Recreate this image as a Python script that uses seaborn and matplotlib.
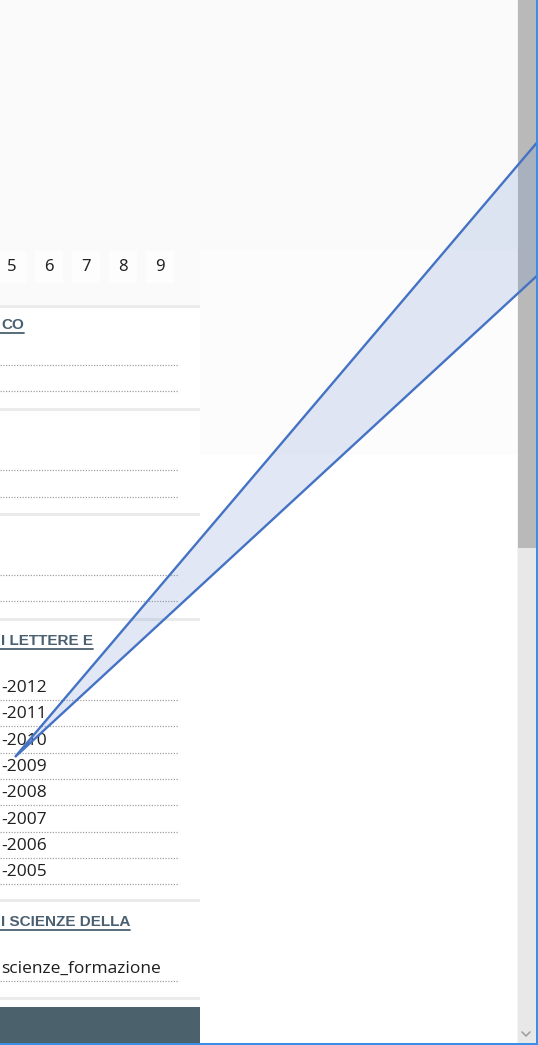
import numpy as np
import pandas as pd
import seaborn as sns
from matplotlib import pyplot as plt
from matplotlib.patches import Rectangle, Polygon

sns.set_theme(style="white")
plt.rcParams["font.family"] = ["Open Sans", "DejaVu Sans"]

# page content (only the part visible in the panel)
pages = ["5", "6", "7", "8", "9"]
headings = ["CO", "I LETTERE E", "I SCIENZE DELLA"]
years = ["-2012", "-2011", "-2010", "-2009", "-2008", "-2007", "-2006", "-2005"]
last_item = "scienze_formazione"

W, H = 538, 1045
fig = plt.figure(figsize=(W / 100, H / 100), dpi=100)
ax = fig.add_axes([0, 0, 1, 1])
ax.set_xlim(0, W)
ax.set_ylim(H, 0)
ax.axis("off")

head_col = "#4a6070"
txt_col = "#1e1e1e"
dot_col = "#a0a0a0"


def rect(x, y, w, h, c, z=1):
    ax.add_patch(Rectangle((x, y), w, h, facecolor=c, edgecolor="none", zorder=z))


# backgrounds
rect(0, 0, W, H, "white", 0)
rect(0, 0, 517, 250, "#fafafa", 0.5)
rect(200, 250, 317, 205, "#fcfcfc", 0.5)
rect(0, 250, 200, 55, "#fafafa", 0.5)

# pagination
for i, p in enumerate(pages):
    cx = 12 + i * 37
    rect(cx - 14, 251, 28, 32, "#fdfdfd", 1)
    ax.text(cx, 267, p, ha="center", va="center", fontsize=12,
            color="#222222", family=["Noto Sans", "DejaVu Sans"], zorder=3)

# card separators (shadow lines)
for y in [305, 408, 513, 618, 899, 997]:
    rect(0, y, 200, 3, "#ebebeb", 2)


def heading(txt, y):
    t = ax.text(1, y, txt, ha="left", va="center", fontsize=11,
                fontweight="bold", color=head_col,
                family=["Liberation Sans", "DejaVu Sans"], zorder=3)
    fig.canvas.draw()
    bb = t.get_window_extent().transformed(ax.transData.inverted())
    ax.plot([0, bb.x1], [y + 8, y + 8], color=head_col, lw=1.3, zorder=3)


def dotted(y):
    ax.plot([0, 178], [y, y], color=dot_col, lw=0.9, ls=(0, (1, 1.2)), zorder=2)


# card 1
heading(headings[0], 325)
dotted(365)
dotted(391)
# card 2
dotted(470)
dotted(497)
# card 3
dotted(575)
dotted(601)
# card 4
heading(headings[1], 641)
for i, yr in enumerate(years):
    y = 688 + i * 26.3
    ax.text(1, y, yr, ha="left", va="center", fontsize=12.5, color=txt_col, zorder=3)
    dotted(y + 12)
# card 5
heading(headings[2], 922)
ax.text(1, 969, last_item, ha="left", va="center", fontsize=12.5, color=txt_col, zorder=3)
dotted(981)

# bottom bar
rect(0, 1007, 200, 38, "#4b616c", 2)

# scrollbar
rect(517, 0, 19, H, "#e8e8e8", 4)
rect(517, 0, 1, H, "#f4f4f4", 4)
rect(518, 0, 18, 548, "#b9b9b9", 4)
ax.plot([522, 526, 530], [1032, 1036, 1032], color="#a0a0a0", lw=1.2, zorder=5)

# callout
ax.add_patch(Polygon([(15, 757), (540, 139), (540, 273)], closed=True,
                     facecolor=(0.475, 0.59, 0.82, 0.22), edgecolor="#4472c4",
                     lw=1.7, zorder=6))

# window border
rect(536, 0, 2, H, "#3a8ee6", 7)
rect(0, 1043, W, 2, "#3a8ee6", 7)

fig.savefig("out.png", dpi=100)
